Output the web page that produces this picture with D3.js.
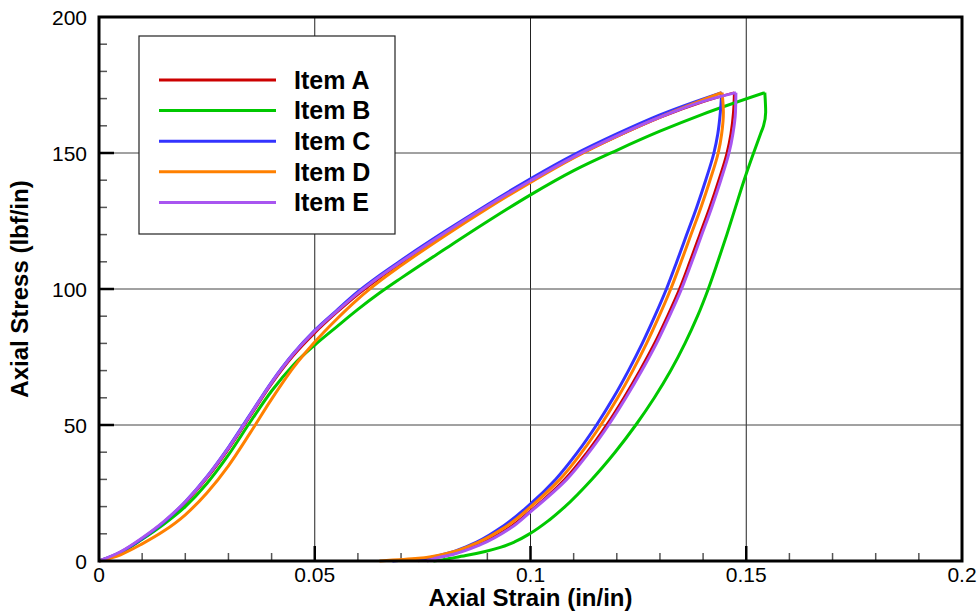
<!DOCTYPE html>
<html>
<head>
<meta charset="utf-8">
<script src="https://cdn.jsdelivr.net/npm/d3@7"></script>
<style>
  body { margin: 0; background: #fff; }
  svg { display: block; }
</style>
</head>
<body>
<div id="chart"></div>
<script>
// series names and colours
const names = ["Item A", "Item B", "Item C", "Item D", "Item E"];
const colors = ["#cc0000", "#00c800", "#3333ff", "#ff8000", "#a855f0"];

// axis ticks
const xMajor = [0, 0.05, 0.1, 0.15, 0.2];
const yMajor = [0, 50, 100, 150, 200];
const xTickLabels = ["0", "0.05", "0.1", "0.15", "0.2"];
const yTickLabels = ["0", "50", "100", "150", "200"];

// loading branches [strain, stress]
const loadA = [[0,0],[0.005,3.2],[0.01,8.1],[0.015,14],[0.02,21.3],[0.025,30.4],[0.03,41.1],[0.035,53.1],[0.04,65.1],[0.045,75.4],[0.05,83.8],[0.055,91.2],[0.06,98],[0.065,104],[0.07,109.5],[0.08,120],[0.09,130],[0.1,139.5],[0.11,148.3],[0.12,156],[0.13,163],[0.14,168.8],[0.1472,172.2]];
const loadB = [[0,0],[0.005,3],[0.01,8],[0.015,13.5],[0.02,20],[0.025,28.5],[0.03,39],[0.035,51],[0.04,62.5],[0.045,72],[0.05,79.4],[0.055,86],[0.06,92.5],[0.065,98.5],[0.07,104],[0.08,114.5],[0.09,124.8],[0.1,134.6],[0.11,143.5],[0.12,151],[0.13,158],[0.14,164.3],[0.1543,172.2]];
const loadC = [[0,0],[0.005,3.3],[0.01,8.3],[0.015,14.3],[0.02,21.8],[0.025,31],[0.03,41.8],[0.035,53.8],[0.04,65.8],[0.045,76.2],[0.05,84.8],[0.055,92],[0.06,99],[0.065,105],[0.07,110.5],[0.08,121],[0.09,131],[0.1,140.5],[0.11,149.3],[0.12,157],[0.13,164],[0.1443,172.2]];
const loadD = [[0,0],[0.005,2.3],[0.01,6.3],[0.015,11],[0.02,17],[0.025,25],[0.03,35],[0.035,47],[0.04,59.5],[0.045,71],[0.05,80.5],[0.055,88.8],[0.06,96.3],[0.065,102.8],[0.07,108.6],[0.08,119.4],[0.09,129.6],[0.1,139.2],[0.11,148.2],[0.12,156.1],[0.13,163.2],[0.1443,172.2]];
const loadE = [[0,0],[0.005,3.4],[0.01,8.5],[0.015,14.5],[0.02,21.8],[0.025,30.9],[0.03,41.6],[0.035,53.6],[0.04,65.6],[0.045,76],[0.05,84.5],[0.055,91.7],[0.06,98.5],[0.065,104.5],[0.07,110],[0.08,120.5],[0.09,130.5],[0.1,139.8],[0.11,148.6],[0.12,156.3],[0.13,163.2],[0.14,169],[0.1476,172.2]];

// unloading branches [strain, stress], from the peak down
const unloadA = [[0.1472,172.2],[0.1470,165],[0.1464,157],[0.1455,150],[0.1436,140],[0.1415,130],[0.1392,120],[0.1369,110],[0.1345,100],[0.1317,90],[0.1287,80],[0.1253,70],[0.1216,60],[0.1176,50],[0.1131,40],[0.1079,30],[0.1,18.5],[0.0948,12],[0.0878,6],[0.0815,2.5],[0.0765,0.8],[0.074,0]];
const unloadB = [[0.1543,172.2],[0.1545,165],[0.1540,160],[0.1533,157],[0.1517,150],[0.1495,140],[0.1475,130],[0.1455,120],[0.1434,110],[0.1412,100],[0.1387,90],[0.1358,80],[0.1325,70],[0.1287,60],[0.1244,50],[0.1196,40],[0.1142,30],[0.1080,20],[0.1043,15],[0.1,10.2],[0.0963,7],[0.0930,5],[0.0895,3.5],[0.0850,2],[0.0815,1],[0.0790,0.3],[0.0775,0]];
const unloadC = [[0.1443,172.2],[0.1440,165],[0.1434,157],[0.1425,150],[0.1406,140],[0.1385,130],[0.1362,120],[0.1339,110],[0.1315,100],[0.1288,90],[0.1259,80],[0.1227,70],[0.1192,60],[0.1153,50],[0.1109,40],[0.1058,30],[0.1,21],[0.0929,12],[0.0862,6],[0.0800,2.5],[0.0745,0.8],[0.068,0]];
const unloadD = [[0.1444,172.2],[0.1447,165],[0.1443,157],[0.1435,150],[0.1416,140],[0.1395,130],[0.1372,120],[0.1349,110],[0.1325,100],[0.1298,90],[0.1269,80],[0.1237,70],[0.1202,60],[0.1163,50],[0.1119,40],[0.1068,30],[0.1008,21],[0.0937,12],[0.0866,6],[0.0806,2.8],[0.074,1],[0.065,0]];
const unloadE = [[0.1476,172.2],[0.1475,165],[0.1469,157],[0.1460,150],[0.1441,140],[0.1420,130],[0.1397,120],[0.1374,110],[0.1350,100],[0.1322,90],[0.1292,80],[0.1258,70],[0.1221,60],[0.1181,50],[0.1136,40],[0.1084,30],[0.1,18.1],[0.0953,12],[0.0884,6],[0.0822,2.5],[0.0775,0.8],[0.076,0]];

const loads = [loadA, loadB, loadC, loadD, loadE];
const unloads = [unloadA, unloadB, unloadC, unloadD, unloadE];

// dimensions
var margin = {top: 17, right: 17, bottom: 52, left: 99},
    width = 979 - margin.left - margin.right,
    height = 613 - margin.top - margin.bottom;

var svg = d3.select("#chart")
  .append("svg")
    .attr("width", 979)
    .attr("height", 613)
  .append("g")
    .attr("transform", "translate(" + margin.left + "," + margin.top + ")");

var x = d3.scaleLinear().domain([0, 0.2]).range([0, width]);
var y = d3.scaleLinear().domain([0, 200]).range([height, 0]);

const font = "'Liberation Sans', Arial, Helvetica, sans-serif";

// grid lines
svg.append("g")
  .selectAll("line")
  .data(xMajor.slice(1, -1))
  .join("line")
    .attr("x1", d => x(d)).attr("x2", d => x(d))
    .attr("y1", 0).attr("y2", height)
    .attr("stroke", "#222").attr("stroke-width", 1);
svg.append("g")
  .selectAll("line")
  .data(yMajor.slice(1, -1))
  .join("line")
    .attr("y1", d => y(d)).attr("y2", d => y(d))
    .attr("x1", 0).attr("x2", width)
    .attr("stroke", "#444").attr("stroke-width", 1);

// minor ticks (inside)
const xMinor = d3.range(1, 20).map(i => i / 100).filter(v => Math.round(v * 100) % 5 !== 0);
const yMinor = d3.range(10, 200, 10).filter(v => v % 50 !== 0);

svg.append("g")
  .selectAll("line")
  .data(xMinor)
  .join("line")
    .attr("x1", d => x(d)).attr("x2", d => x(d))
    .attr("y1", height).attr("y2", height - 8)
    .attr("stroke", "#555").attr("stroke-width", 1.5);
svg.append("g")
  .selectAll("line")
  .data(yMinor)
  .join("line")
    .attr("y1", d => y(d)).attr("y2", d => y(d))
    .attr("x1", 0).attr("x2", 8)
    .attr("stroke", "#555").attr("stroke-width", 1.5);

// major ticks (inside)
svg.append("g")
  .selectAll("line")
  .data(xMajor.slice(1, -1))
  .join("line")
    .attr("x1", d => x(d)).attr("x2", d => x(d))
    .attr("y1", height).attr("y2", height - 15)
    .attr("stroke", "#000").attr("stroke-width", 2.5);
svg.append("g")
  .selectAll("line")
  .data(yMajor.slice(1, -1))
  .join("line")
    .attr("y1", d => y(d)).attr("y2", d => y(d))
    .attr("x1", 0).attr("x2", 15)
    .attr("stroke", "#000").attr("stroke-width", 2.5);

// tick labels
svg.append("g")
  .selectAll("text")
  .data(xMajor)
  .join("text")
    .attr("x", d => x(d))
    .attr("y", height + 21)
    .attr("text-anchor", "middle")
    .attr("font-family", font)
    .attr("font-size", "21px")
    .text((d, i) => xTickLabels[i]);
svg.append("g")
  .selectAll("text")
  .data(yMajor)
  .join("text")
    .attr("x", -12)
    .attr("y", d => y(d) + 8)
    .attr("text-anchor", "end")
    .attr("font-family", font)
    .attr("font-size", "21px")
    .text((d, i) => yTickLabels[i]);

// curves: loading is monotone in strain, unloading monotone in stress
var loadLine = d3.line()
  .x(d => x(d[0]))
  .y(d => y(d[1]))
  .curve(d3.curveMonotoneX);
var unloadLine = d3.line()
  .x(d => x(d[0]))
  .y(d => y(d[1]))
  .curve(d3.curveMonotoneY);

names.forEach(function(n, i) {
  svg.append("path")
    .datum(loads[i])
    .attr("fill", "none")
    .attr("stroke", colors[i])
    .attr("stroke-width", i === 0 ? 2.5 : 3)
    .attr("stroke-linejoin", "round")
    .attr("d", loadLine);
  svg.append("path")
    .datum(unloads[i])
    .attr("fill", "none")
    .attr("stroke", colors[i])
    .attr("stroke-width", i === 0 ? 2.5 : 3)
    .attr("stroke-linejoin", "round")
    .attr("d", unloadLine);
});

// frame
svg.append("rect")
  .attr("x", 0).attr("y", 0)
  .attr("width", width).attr("height", height)
  .attr("fill", "none")
  .attr("stroke", "#000")
  .attr("stroke-width", 3);

// legend
var legend = svg.append("g").attr("transform", "translate(" + (139 - margin.left) + "," + (36 - margin.top) + ")");
legend.append("rect")
  .attr("width", 256).attr("height", 198)
  .attr("fill", "#fff")
  .attr("stroke", "#222")
  .attr("stroke-width", 1.2);
names.forEach(function(n, i) {
  var ly = 44 + i * 30.6;
  legend.append("line")
    .attr("x1", 20).attr("x2", 137)
    .attr("y1", ly).attr("y2", ly)
    .attr("stroke", colors[i])
    .attr("stroke-width", 3);
  legend.append("text")
    .attr("x", 155)
    .attr("y", ly + 8.7)
    .attr("font-family", font)
    .attr("font-weight", "bold")
    .attr("font-size", "25px")
    .text(n);
});

// axis titles
svg.append("text")
  .attr("text-anchor", "middle")
  .attr("font-family", font)
  .attr("font-weight", "bold")
  .attr("font-size", "24px")
  .attr("x", width / 2)
  .attr("y", height + 45)
  .text("Axial Strain (in/in)");

svg.append("text")
  .attr("text-anchor", "middle")
  .attr("font-family", font)
  .attr("font-weight", "bold")
  .attr("font-size", "24px")
  .attr("transform", "rotate(-90)")
  .attr("x", -height / 2)
  .attr("y", 28 - margin.left)
  .text("Axial Stress (lbf/in)");
</script>
</body>
</html>
